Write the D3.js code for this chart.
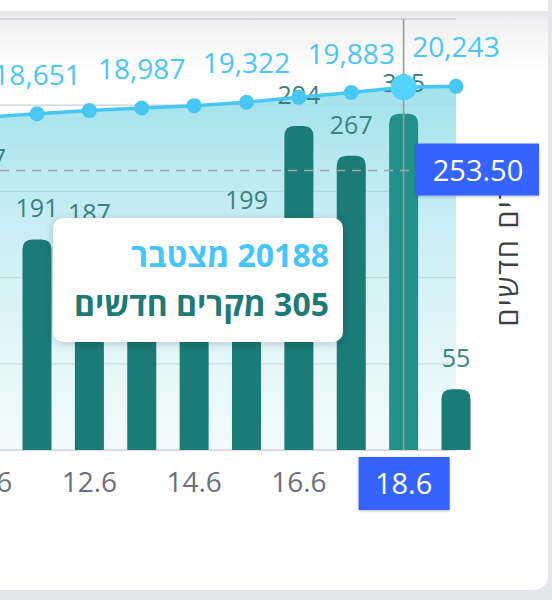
<!DOCTYPE html>
<html>
<head>
<meta charset="utf-8">
<script src="https://cdn.jsdelivr.net/npm/d3@7"></script>
<style>
  body { margin: 0; background: #e4e6eb; font-family: 'Open Sans', 'Liberation Sans', 'DejaVu Sans', sans-serif; }
  #wrap { position: relative; width: 552px; height: 600px; overflow: hidden; }
  #tip {
    position: absolute; left: 53px; top: 218px; width: 290px; height: 124px;
    background: #fff; border-radius: 10px; box-shadow: 0 2px 10px rgba(0,0,0,0.18);
    direction: rtl; text-align: right; box-sizing: border-box; padding: 12px 14px 0 0;
    font-weight: 700; font-size: 32px; line-height: 49px;
  }
</style>
</head>
<body>
<div id="wrap">
  <svg id="chart" width="552" height="600"></svg>
  <div id="tip"></div>
</div>
<script>
const days = ['10.6', '11.6', '12.6', '13.6', '14.6', '15.6', '16.6', '17.6', '18.6', '19.6'];
const newCases = [237, 191, 187, 149, 136, 199, 294, 267, 305, 55];
const cumulative = [18460, 18651, 18838, 18987, 19123, 19322, 19616, 19883, 20188, 20243];
const tickDays = ['10.6', '12.6', '14.6', '16.6', '18.6'];
const labelledCumDays = ['11.6', '13.6', '15.6', '17.6', '19.6'];
const hoverDay = '18.6';
const hoverValue = 253.5;
const barMax = 391;
const lineDomain = [-850, 24150];
const axisTitle = 'מקרים חדשים';
const tipCumLabel = 'מצטבר';
const tipNewLabel = 'מקרים חדשים';

const plotTop = 19, plotBottom = 450, plotRight = 456;
const step = 52.375;

const svg = d3.select('#chart');
const defs = svg.append('defs');

// card + header shadow
svg.append('rect').attr('x', -30).attr('y', -30).attr('width', 578).attr('height', 620)
  .attr('rx', 14).attr('fill', '#fff');
const hdr = defs.append('linearGradient').attr('id', 'hdr').attr('x1', 0).attr('x2', 0).attr('y1', 0).attr('y2', 1);
hdr.append('stop').attr('offset', '0%').attr('stop-color', '#e6e6e8');
hdr.append('stop').attr('offset', '15%').attr('stop-color', '#f0f0f2');
hdr.append('stop').attr('offset', '100%').attr('stop-color', '#ffffff');
svg.append('rect').attr('x', 0).attr('y', 11).attr('width', 548).attr('height', 62).attr('fill', 'url(#hdr)');

const areaGrad = defs.append('linearGradient').attr('id', 'areaGrad').attr('x1', 0).attr('x2', 0).attr('y1', 0).attr('y2', 1);
areaGrad.append('stop').attr('offset', '0%').attr('stop-color', '#8adae6').attr('stop-opacity', 0.8);
areaGrad.append('stop').attr('offset', '100%').attr('stop-color', '#d9f3f7').attr('stop-opacity', 0.35);

const shadow = defs.append('filter').attr('id', 'sh').attr('x', '-10%').attr('y', '-20%').attr('width', '120%').attr('height', '140%');
shadow.append('feDropShadow').attr('dx', 0).attr('dy', 1).attr('stdDeviation', 1.5).attr('flood-opacity', 0.25);

const x = d3.scalePoint().domain(days).range([plotRight - step * (days.length - 1), plotRight]);
const yBar = d3.scaleLinear().domain([0, barMax]).range([plotBottom, plotTop]);
const yLine = d3.scaleLinear().domain(lineDomain).range([plotBottom, plotTop]);

// gridlines
const gridVals = d3.range(6).map(i => barMax * i / 5);
svg.append('g').selectAll('line').data(gridVals).enter().append('line')
  .attr('x1', -5).attr('x2', plotRight)
  .attr('y1', d => yBar(d)).attr('y2', d => yBar(d))
  .attr('stroke', '#cdcdd0').attr('stroke-width', 1.3);

// cumulative area
const area = d3.area().x((d, i) => x(days[i])).y0(plotBottom).y1(d => yLine(d));
svg.append('path').datum(cumulative).attr('d', area).attr('fill', 'url(#areaGrad)');

// bars with rounded tops
const bw = 29, r = 10;
const barPath = (cx, v) => {
  const x0 = cx - bw / 2, x1 = cx + bw / 2, yt = yBar(v);
  return `M${x0},${plotBottom}V${yt + r}Q${x0},${yt} ${x0 + r},${yt}H${x1 - r}Q${x1},${yt} ${x1},${yt + r}V${plotBottom}Z`;
};
svg.append('g').selectAll('path').data(newCases).enter().append('path')
  .attr('d', (d, i) => barPath(x(days[i]), d))
  .attr('fill', (d, i) => days[i] === hoverDay ? '#22908b' : '#1b7b77');

svg.append('g').selectAll('text').data(newCases).enter().append('text')
  .attr('x', (d, i) => x(days[i])).attr('y', d => yBar(d) - 22)
  .attr('text-anchor', 'middle').attr('font-size', 25).attr('fill', '#3a8380')
  .text(d => d);

// crosshair
svg.append('line').attr('x1', 0).attr('x2', 416)
  .attr('y1', yBar(hoverValue)).attr('y2', yBar(hoverValue))
  .attr('stroke', '#a3a3a3').attr('stroke-width', 1.6).attr('stroke-dasharray', '9,7');
svg.append('line').attr('x1', x(hoverDay)).attr('x2', x(hoverDay)).attr('y1', plotTop).attr('y2', plotBottom)
  .attr('stroke', '#9b9b9b').attr('stroke-width', 1.6);

// cumulative line + dots
const line = d3.line().x((d, i) => x(days[i])).y(d => yLine(d));
svg.append('path').datum(cumulative).attr('d', line)
  .attr('fill', 'none').attr('stroke', '#48c7f4').attr('stroke-width', 3.5);
svg.append('g').selectAll('circle').data(cumulative).enter().append('circle')
  .attr('cx', (d, i) => x(days[i])).attr('cy', d => yLine(d))
  .attr('r', (d, i) => days[i] === hoverDay ? 13 : 7.5)
  .attr('fill', (d, i) => days[i] === hoverDay ? '#52d3fd' : '#48c7f4');

svg.append('g').selectAll('text').data(labelledCumDays).enter().append('text')
  .attr('x', d => x(d)).attr('y', d => yLine(cumulative[days.indexOf(d)]) - 29)
  .attr('text-anchor', 'middle').attr('font-size', 28).attr('fill', '#4cc6f3')
  .text(d => d3.format(',')(cumulative[days.indexOf(d)]));

// x axis labels
svg.append('g').selectAll('text').data(tickDays.filter(d => d !== hoverDay)).enter().append('text')
  .attr('x', d => x(d)).attr('y', 492)
  .attr('text-anchor', 'middle').attr('font-size', 28).attr('fill', '#6c707a')
  .text(d => d);

// right axis title
svg.append('text').attr('transform', 'translate(518,235) rotate(-90)')
  .attr('text-anchor', 'middle').attr('font-size', 29).attr('letter-spacing', 2)
  .attr('fill', '#3b3f48')
  .text(axisTitle);

// hover badges
svg.append('rect').attr('x', x(hoverDay) - 45).attr('y', 457).attr('width', 91).attr('height', 53)
  .attr('fill', '#3564fb').attr('filter', 'url(#sh)');
svg.append('text').attr('x', x(hoverDay)).attr('y', 494).attr('text-anchor', 'middle')
  .attr('font-size', 29).attr('font-weight', 500).attr('fill', '#fff').text(hoverDay);

svg.append('rect').attr('x', 416).attr('y', yBar(hoverValue) - 27).attr('width', 123).attr('height', 52)
  .attr('fill', '#3564fb').attr('filter', 'url(#sh)');
svg.append('text').attr('x', 478).attr('y', yBar(hoverValue) + 10).attr('text-anchor', 'middle')
  .attr('font-size', 29).attr('font-weight', 500).attr('fill', '#fff').text(d3.format('.2f')(hoverValue));

// tooltip
const hi = days.indexOf(hoverDay);
const tip = d3.select('#tip');
tip.append('div').style('color', '#45c6fa').text(`${cumulative[hi]} ${tipCumLabel}`);
tip.append('div').style('color', '#1e7a76').text(`${newCases[hi]} ${tipNewLabel}`);
</script>
</body>
</html>
